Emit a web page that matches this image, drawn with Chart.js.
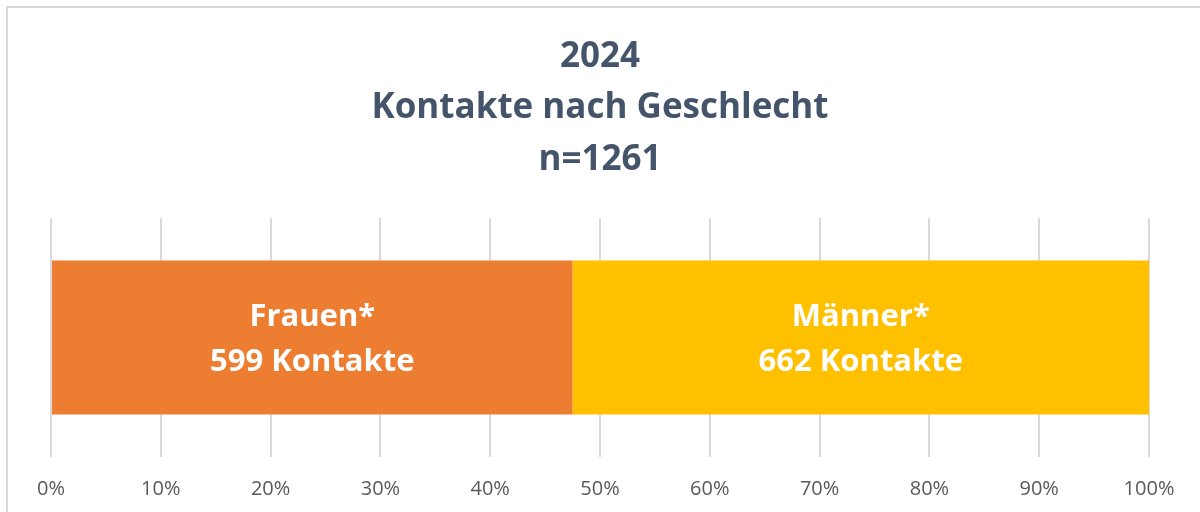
<!DOCTYPE html>
<html>
<head>
<meta charset="utf-8">
<script src="https://cdn.jsdelivr.net/npm/chart.js@4.4.1/dist/chart.umd.min.js"></script>
<style>
  html, body { margin: 0; padding: 0; width: 1200px; height: 512px; overflow: hidden; background: #fff; }
  #frame { position: absolute; left: 6px; top: 6px; width: 1300px; height: 700px; border: 2px solid #d9d9d9; box-sizing: border-box; }
  #wrap { position: absolute; left: 0; top: 0; width: 1200px; height: 512px; }
</style>
</head>
<body>
<div id="frame"></div>
<div id="wrap"><canvas id="c" width="1200" height="512"></canvas></div>
<script>
const titleLines = ['2024', 'Kontakte nach Geschlecht', 'n=1261'];
const categories = ['2024'];
const seriesNames = ['Frauen*', 'Männer*'];
const frauenValues = [599];
const maennerValues = [662];
const tickLabels = ['0%', '10%', '20%', '30%', '40%', '50%', '60%', '70%', '80%', '90%', '100%'];

const frauenPct = frauenValues.map((v, i) => v / (frauenValues[i] + maennerValues[i]) * 100);
const maennerPct = maennerValues.map((v, i) => v / (frauenValues[i] + maennerValues[i]) * 100);
const rawCounts = [frauenValues, maennerValues];

const FONT = '"Open Sans", Lato, "Liberation Sans", sans-serif';

const barLabels = {
  id: 'barLabels',
  afterDatasetsDraw(chart) {
    const ctx = chart.ctx;
    ctx.save();
    ctx.fillStyle = '#ffffff';
    ctx.font = 'bold 31px ' + FONT;
    ctx.textAlign = 'center';
    ctx.textBaseline = 'middle';
    chart.data.datasets.forEach((ds, di) => {
      const meta = chart.getDatasetMeta(di);
      meta.data.forEach((bar, i) => {
        const cx = (bar.x + bar.base) / 2;
        const cy = bar.y;
        ctx.fillText(seriesNames[di], cx, cy - 20);
        ctx.fillText(rawCounts[di][i] + ' Kontakte', cx, cy + 25);
      });
    });
    ctx.restore();
  }
};

new Chart(document.getElementById('c'), {
  type: 'bar',
  data: {
    labels: categories,
    datasets: [
      { label: seriesNames[0], data: frauenPct, backgroundColor: '#ed7d31', borderWidth: 0 },
      { label: seriesNames[1], data: maennerPct, backgroundColor: '#ffc000', borderWidth: 0 }
    ]
  },
  options: {
    indexAxis: 'y',
    responsive: false,
    animation: false,
    layout: { padding: { left: 51, right: 51, top: 0, bottom: 0 } },
    datasets: { bar: { barPercentage: 0.644, categoryPercentage: 1 } },
    scales: {
      x: {
        stacked: true,
        min: 0, max: 100,
        afterBuildTicks(axis) {
          axis.ticks = tickLabels.map((t, i) => ({ value: i * 10 }));
        },
        afterFit(axis) { axis.height = 55; },
        grid: { color: '#d9d9d9', lineWidth: 2, drawTicks: false },
        border: { display: false },
        ticks: {
          padding: 20,
          maxRotation: 0,
          color: '#595959',
          font: { family: FONT, size: 20 },
          callback: (v, i) => tickLabels[i]
        }
      },
      y: { stacked: true, display: false }
    },
    plugins: {
      legend: { display: false },
      tooltip: { enabled: false },
      title: {
        display: true,
        text: titleLines,
        color: '#44546a',
        font: { family: FONT, size: 35, weight: 'bold', lineHeight: '51.5px' },
        padding: { top: 31, bottom: 32.5 }
      }
    }
  },
  plugins: [barLabels]
});
</script>
</body>
</html>
